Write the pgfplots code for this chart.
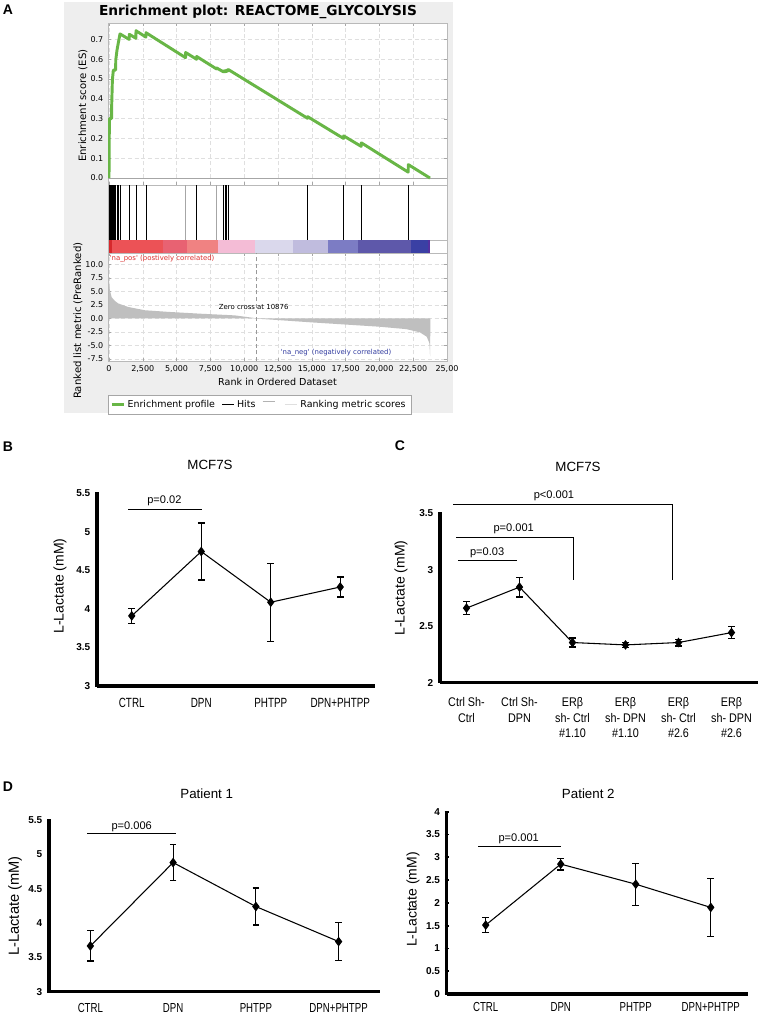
\documentclass[border=0pt]{standalone}
\usepackage{pgfplots}
\pgfplotsset{compat=1.18}
\usepackage{pgfplotstable}
\usepackage{fontspec}
\setmainfont{Liberation Sans}
\newfontfamily\dejavu{DejaVu Sans}
\newfontfamily\narrowfont[FakeStretch=0.74]{Liberation Sans}
\newfontfamily\narrowc[FakeStretch=0.86]{Liberation Sans}
\newcommand\pxu{0.75pt}
\definecolor{esgreen}{RGB}{104,182,70}
\definecolor{bgA}{RGB}{238,238,238}
\definecolor{napos}{RGB}{220,50,50}
\definecolor{naneg}{RGB}{50,60,160}
\definecolor{cb1}{RGB}{214,40,44}
\definecolor{cb2}{RGB}{236,82,86}
\definecolor{cb3}{RGB}{232,98,114}
\definecolor{cb4}{RGB}{240,130,130}
\definecolor{cb5}{RGB}{244,188,214}
\definecolor{cb6}{RGB}{218,216,236}
\definecolor{cb7}{RGB}{192,188,222}
\definecolor{cb8}{RGB}{124,124,196}
\definecolor{cb9}{RGB}{94,88,170}
\definecolor{cb10}{RGB}{58,64,164}
\definecolor{cb11}{RGB}{84,48,160}

\pgfplotstableread{
x y e
0 3.910 0.095
1 4.745 0.370
2 4.087 0.505
3 4.285 0.130
}\dataB
\pgfplotstableread{
x y e
0 2.660 0.055
1 2.846 0.088
2 2.355 0.040
3 2.334 0.020
4 2.355 0.030
5 2.443 0.055
}\dataC
\pgfplotstableread{
x y e
0 3.666 0.220
1 4.880 0.260
2 4.240 0.270
3 3.730 0.280
}\dataDa
\pgfplotstableread{
x y e
0 1.513 0.170
1 2.851 0.130
2 2.410 0.460
3 1.900 0.630
}\dataDb

\tikzset{plab/.style={font=\fontsize{8.3}{10}\selectfont}}
\pgfplotsset{
 gsea/.style={scale only axis, width=254.25pt, xmin=-74, xmax=25000,
   axis line style={gray!55}, axis background/.style={fill=white},
   tick label style={font=\dejavu\fontsize{6}{7}\selectfont},
   /pgf/number format/assume math mode=true,
   scaled x ticks=false, scaled y ticks=false,
   tick style={gray!70}, major tick length=2pt, anchor=south west},
 lact/.style={scale only axis, clip=false, axis x line=bottom, axis y line=left,
   axis line style={line width=2.6pt, -},
   xtick style={draw=none}, ytick style={line width=1.3pt, black},
   major tick length=3pt, tick align=center,
   /pgf/number format/assume math mode=true,
   yticklabel style={font=\bfseries\fontsize{7.5}{8}\selectfont},
   anchor=south west},
 meanline/.style={black, line width=0.8pt, mark=diamond*, mark size=3pt,
   mark options={solid, fill=black},
   error bars/y dir=both, error bars/y explicit,
   error bars/error bar style={black, line width=0.7pt},
   error bars/error mark options={rotate=90, mark size=2.5pt, line width=0.9pt, black}},
}

\begin{document}
\begin{tikzpicture}
\useasboundingbox (0,0) rectangle (760*\pxu,-1014*\pxu);
\fill[bgA] (64*\pxu,-2*\pxu) rectangle (453*\pxu,-413*\pxu);

% ---------- Panel A: ES ----------
\begin{axis}[gsea, at={(108*\pxu,-185*\pxu)}, height=121.5pt,
  ymin=-0.035, ymax=0.783, ytick={0,0.1,0.2,0.3,0.4,0.5,0.6,0.7},
  yticklabel style={/pgf/number format/.cd, fixed, fixed zerofill, precision=1},
  xtick={0,2500,...,25000}, xticklabels={},
  grid=major, major grid style={densely dashed, gray!25},
  ylabel={Enrichment score (ES)},
  ylabel style={font=\dejavu\fontsize{7.6}{9}\selectfont, at={(axis description cs:-0.074,0.49)}, anchor=center}]
\addplot[gray!70, line width=0.5pt] coordinates {(-74,0) (25000,0)};
\addplot[esgreen, line width=2.2pt, line join=round] coordinates {
(0,0)(10,0.13)(30,0.30)(190,0.30)(200,0.37)(250,0.495)(320,0.545)(490,0.545)(500,0.596)(592,0.646)(690,0.683)(814,0.728)(1494,0.700)(1504,0.726)(1987,0.706)(1997,0.744)(2727,0.712)(2737,0.734)(5660,0.608)(5670,0.634)(6474,0.600)(6484,0.614)(7953,0.551)(7963,0.556)(8446,0.537)(8456,0.541)(8569,0.537)(8579,0.542)(8693,0.538)(8703,0.545)(8816,0.541)(8826,0.548)(14684,0.302)(14694,0.310)(17347,0.200)(17357,0.213)(18654,0.160)(18664,0.178)(22129,0.030)(22139,0.068)(23742,0.0)};
\end{axis}

% ---------- Panel A: hits ----------
\begin{axis}[gsea, at={(108*\pxu,-240*\pxu)}, height=41.25pt, ymin=0, ymax=1, xtick=\empty, ytick=\empty]
\addplot[ycomb, black, line width=0.6pt] coordinates {(5,1)(15,1)(30,1)(75,1)(150,1)(200,1)(250,1)(320,1)(420,1)(500,1)(592,1)(690,1)(814,1)(1504,1)(1997,1)(2737,1)(6484,1)(8456,1)(8579,1)(8703,1)(8826,1)(14694,1)(17357,1)(18664,1)(22139,1)};
\addplot[ycomb, gray!70, line width=0.6pt] coordinates {(5670,1)(7963,1)};
\end{axis}

% ---------- Panel A: colour bar ----------
\begin{axis}[gsea, at={(108*\pxu,-253*\pxu)}, height=9.75pt, ymin=0, ymax=1, xtick=\empty, ytick=\empty]
\addplot[fill=cb1, draw=none] coordinates {(0,1)(197,1)} \closedcycle;
\addplot[fill=cb2, draw=none] coordinates {(197,1)(3970,1)} \closedcycle;
\addplot[fill=cb3, draw=none] coordinates {(3970,1)(5744,1)} \closedcycle;
\addplot[fill=cb4, draw=none] coordinates {(5744,1)(8037,1)} \closedcycle;
\addplot[fill=cb5, draw=none] coordinates {(8037,1)(10798,1)} \closedcycle;
\addplot[fill=cb6, draw=none] coordinates {(10798,1)(13634,1)} \closedcycle;
\addplot[fill=cb7, draw=none] coordinates {(13634,1)(16223,1)} \closedcycle;
\addplot[fill=cb8, draw=none] coordinates {(16223,1)(18442,1)} \closedcycle;
\addplot[fill=cb9, draw=none] coordinates {(18442,1)(22337,1)} \closedcycle;
\addplot[fill=cb10, draw=none] coordinates {(22337,1)(23620,1)} \closedcycle;
\addplot[fill=cb11, draw=none] coordinates {(23620,1)(23768,1)} \closedcycle;
\end{axis}

% ---------- Panel A: ranked list ----------
\begin{axis}[gsea, at={(108*\pxu,-361*\pxu)}, height=81pt,
  ymin=-7.9, ymax=12.1, ytick={-7.5,-5,-2.5,0,2.5,5,7.5,10},
  yticklabel style={/pgf/number format/.cd, fixed, fixed zerofill, precision=1},
  xtick={0,2500,...,25000},
  xticklabels={0,{2,500},{5,000},{7,500},{10,000},{12,500},{15,000},{17,500},{20,000},{22,500},{25,00}},
  grid=major, major grid style={densely dashed, gray!25},
  xlabel={Rank in Ordered Dataset},
  xlabel style={font=\dejavu\fontsize{7.2}{9}\selectfont, at={(axis description cs:0.5,-0.195)}, anchor=center},
  ylabel={Ranked list metric (PreRanked)},
  ylabel style={font=\dejavu\fontsize{7.6}{9}\selectfont, at={(axis description cs:-0.0885,0.373)}, anchor=center},
  legend style={at={(axis description cs:0.447,-0.315)}, anchor=north, legend columns=-1,
    draw=gray!70, fill=white, font=\dejavu\fontsize{7.1}{8}\selectfont,
    inner xsep=2pt, inner ysep=1.5pt, /tikz/every even column/.append style={column sep=3pt}},
  legend image code/.code={\draw[#1] (0pt,0pt) -- (9pt,0pt);}]
\addlegendimage{esgreen, line width=1.6pt}\addlegendentry{Enrichment profile}
\addlegendimage{black, line width=0.6pt}\addlegendentry{Hits}
\addlegendimage{gray!60, line width=0.5pt, yshift=2.5pt}\addlegendentry{}
\addlegendimage{gray!25, line width=1.2pt}\addlegendentry{Ranking metric scores}
\addplot[fill=gray!50, draw=none, forget plot] coordinates {
(0,7.6)(30,6.0)(74,5.1)(197,3.9)(444,3.2)(690,2.75)(1430,2.1)(2650,1.5)(4370,1.2)(6840,0.85)(9300,0.55)(10800,0.05)(10876,0)(10900,-0.05)(12400,-0.3)(15000,-0.75)(17500,-1.15)(20000,-1.55)(22000,-2.0)(23000,-2.6)(23500,-3.4)(23700,-4.6)(23750,-7.0)(23770,0)} \closedcycle;
\addplot[densely dashed, gray!80, line width=0.6pt, forget plot] coordinates {(10876,-7.9)(10876,12.1)};
\node[anchor=west, text=napos, font=\dejavu\fontsize{5.2}{6}\selectfont, inner sep=0pt] at (axis cs:40,11.0) {\textquotesingle na\_pos\textquotesingle{} (postively correlated)};
\node[font=\dejavu\fontsize{5.2}{6}\selectfont, inner sep=0pt] at (axis cs:10700,2.1) {Zero cross at 10876};
\node[text=naneg, font=\dejavu\fontsize{5.2}{6}\selectfont, inner sep=0pt] at (axis cs:16790,-6.4) {\textquotesingle na\_neg\textquotesingle{} (negatively correlated)};
\end{axis}

\node[font=\dejavu\bfseries\fontsize{10.3}{12}\selectfont] at (258*\pxu,-12*\pxu) {Enrichment plot: REACTOME\_GLYCOLYSIS};

% ---------- Panel letters, titles, y labels ----------
\node[font=\bfseries\fontsize{10.5}{12}\selectfont] at (8*\pxu,-10*\pxu) {A};
\node[font=\bfseries\fontsize{10.5}{12}\selectfont] at (8*\pxu,-447*\pxu) {B};
\node[font=\bfseries\fontsize{10.5}{12}\selectfont] at (400*\pxu,-446*\pxu) {C};
\node[font=\bfseries\fontsize{10.5}{12}\selectfont] at (8*\pxu,-787*\pxu) {D};
\node[font=\fontsize{10}{12}\selectfont] at (210*\pxu,-465*\pxu) {MCF7S};
\node[font=\fontsize{10}{12}\selectfont] at (578*\pxu,-467*\pxu) {MCF7S};
\node[font=\fontsize{10}{12}\selectfont] at (206.7*\pxu,-794*\pxu) {Patient 1};
\node[font=\fontsize{10}{12}\selectfont] at (588.3*\pxu,-793.3*\pxu) {Patient 2};
\node[rotate=90, font=\fontsize{10.5}{12}\selectfont] at (60*\pxu,-586*\pxu) {L-Lactate (mM)};
\node[rotate=90, font=\fontsize{10.5}{12}\selectfont] at (401*\pxu,-588*\pxu) {L-Lactate (mM)};
\node[rotate=90, font=\fontsize{11}{12}\selectfont] at (15*\pxu,-906*\pxu) {L-Lactate (mM)};
\node[rotate=90, font=\fontsize{10.5}{12}\selectfont] at (413*\pxu,-899.5*\pxu) {L-Lactate (mM)};

% ---------- Panel B ----------
\begin{axis}[lact, at={(97*\pxu,-686*\pxu)}, width=208.5pt, height=144.5pt,
  xmin=-0.5, xmax=3.5, ymin=3, ymax=5.5, ytick={3,3.5,4,4.5,5,5.5},
  xtick={0,1,2,3}, xticklabels={CTRL,DPN,PHTPP,DPN+PHTPP},
  xticklabel style={font=\narrowfont\fontsize{10}{12}\selectfont, anchor=center, inner sep=0pt, yshift=-11.25pt}]
\addplot[meanline] table[x=x, y=y, y error=e] {\dataB};
\draw[line width=0.6pt] (axis cs:-0.05,5.295) -- (axis cs:1.01,5.295);
\node[plab] at (axis cs:0.47,5.40) {p=0.02};
\end{axis}

% ---------- Panel C ----------
\begin{axis}[lact, at={(440*\pxu,-682.6*\pxu)}, width=238.5pt, height=127pt,
  xmin=-0.5, xmax=5.5, ymin=2, ymax=3.5, ytick={2,2.5,3,3.5},
  xtick={0,1,2,3,4,5},
  xticklabels={{Ctrl Sh-\\Ctrl},{Ctrl Sh-\\DPN},{ERβ\\sh- Ctrl\\\#1.10},{ERβ\\sh- DPN\\\#1.10},{ERβ\\sh- Ctrl\\\#2.6},{ERβ\\sh- DPN\\\#2.6}},
  xticklabel style={font=\narrowc\fontsize{9.4}{11.8}\selectfont, align=center, anchor=north, yshift=-6pt}]
\addplot[meanline] table[x=x, y=y, y error=e] {\dataC};
\draw[line width=0.6pt] (axis cs:-0.16,3.08) -- (axis cs:0.96,3.08);
\node[plab] at (axis cs:0.39,3.154) {p=0.03};
\draw[line width=0.6pt] (axis cs:-0.19,3.287) -- (axis cs:2.01,3.287) -- (axis cs:2.01,2.911);
\node[plab] at (axis cs:0.89,3.36) {p=0.001};
\draw[line width=0.6pt] (axis cs:-0.25,3.577) -- (axis cs:3.89,3.577) -- (axis cs:3.89,2.911);
\node[plab] at (axis cs:1.65,3.657) {p<0.001};
\end{axis}

% ---------- Panel D: Patient 1 ----------
\begin{axis}[lact, at={(49*\pxu,-991.7*\pxu)}, width=248.25pt, height=128.8pt,
  xmin=-0.5, xmax=3.5, ymin=3, ymax=5.5, ytick={3,3.5,4,4.5,5,5.5},
  xtick={0,1,2,3}, xticklabels={CTRL,DPN,PHTPP,DPN+PHTPP},
  xticklabel style={font=\narrowfont\fontsize{9.8}{12}\selectfont, anchor=center, inner sep=0pt, yshift=-11pt}]
\addplot[meanline] table[x=x, y=y, y error=e] {\dataDa};
\draw[line width=0.6pt] (axis cs:-0.04,5.309) -- (axis cs:1.04,5.309);
\node[plab] at (axis cs:0.5,5.405) {p=0.006};
\end{axis}

% ---------- Panel D: Patient 2 ----------
\begin{axis}[lact, at={(446.7*\pxu,-994*\pxu)}, width=226.2pt, height=136.7pt,
  xmin=-0.52, xmax=3.5, ymin=0, ymax=4, ytick={0,0.5,1,1.5,2,2.5,3,3.5,4},
  xtick={0,1,2,3}, xticklabels={CTRL,DPN,PHTPP,DPN+PHTPP},
  xticklabel style={font=\narrowfont\fontsize{9.8}{12}\selectfont, anchor=center, inner sep=0pt, yshift=-8.4pt}]
\addplot[meanline] table[x=x, y=y, y error=e] {\dataDb};
\draw[line width=0.6pt] (axis cs:-0.10,3.23) -- (axis cs:1.0,3.23);
\node[plab] at (axis cs:0.44,3.41) {p=0.001};
\end{axis}
\end{tikzpicture}
\end{document}
